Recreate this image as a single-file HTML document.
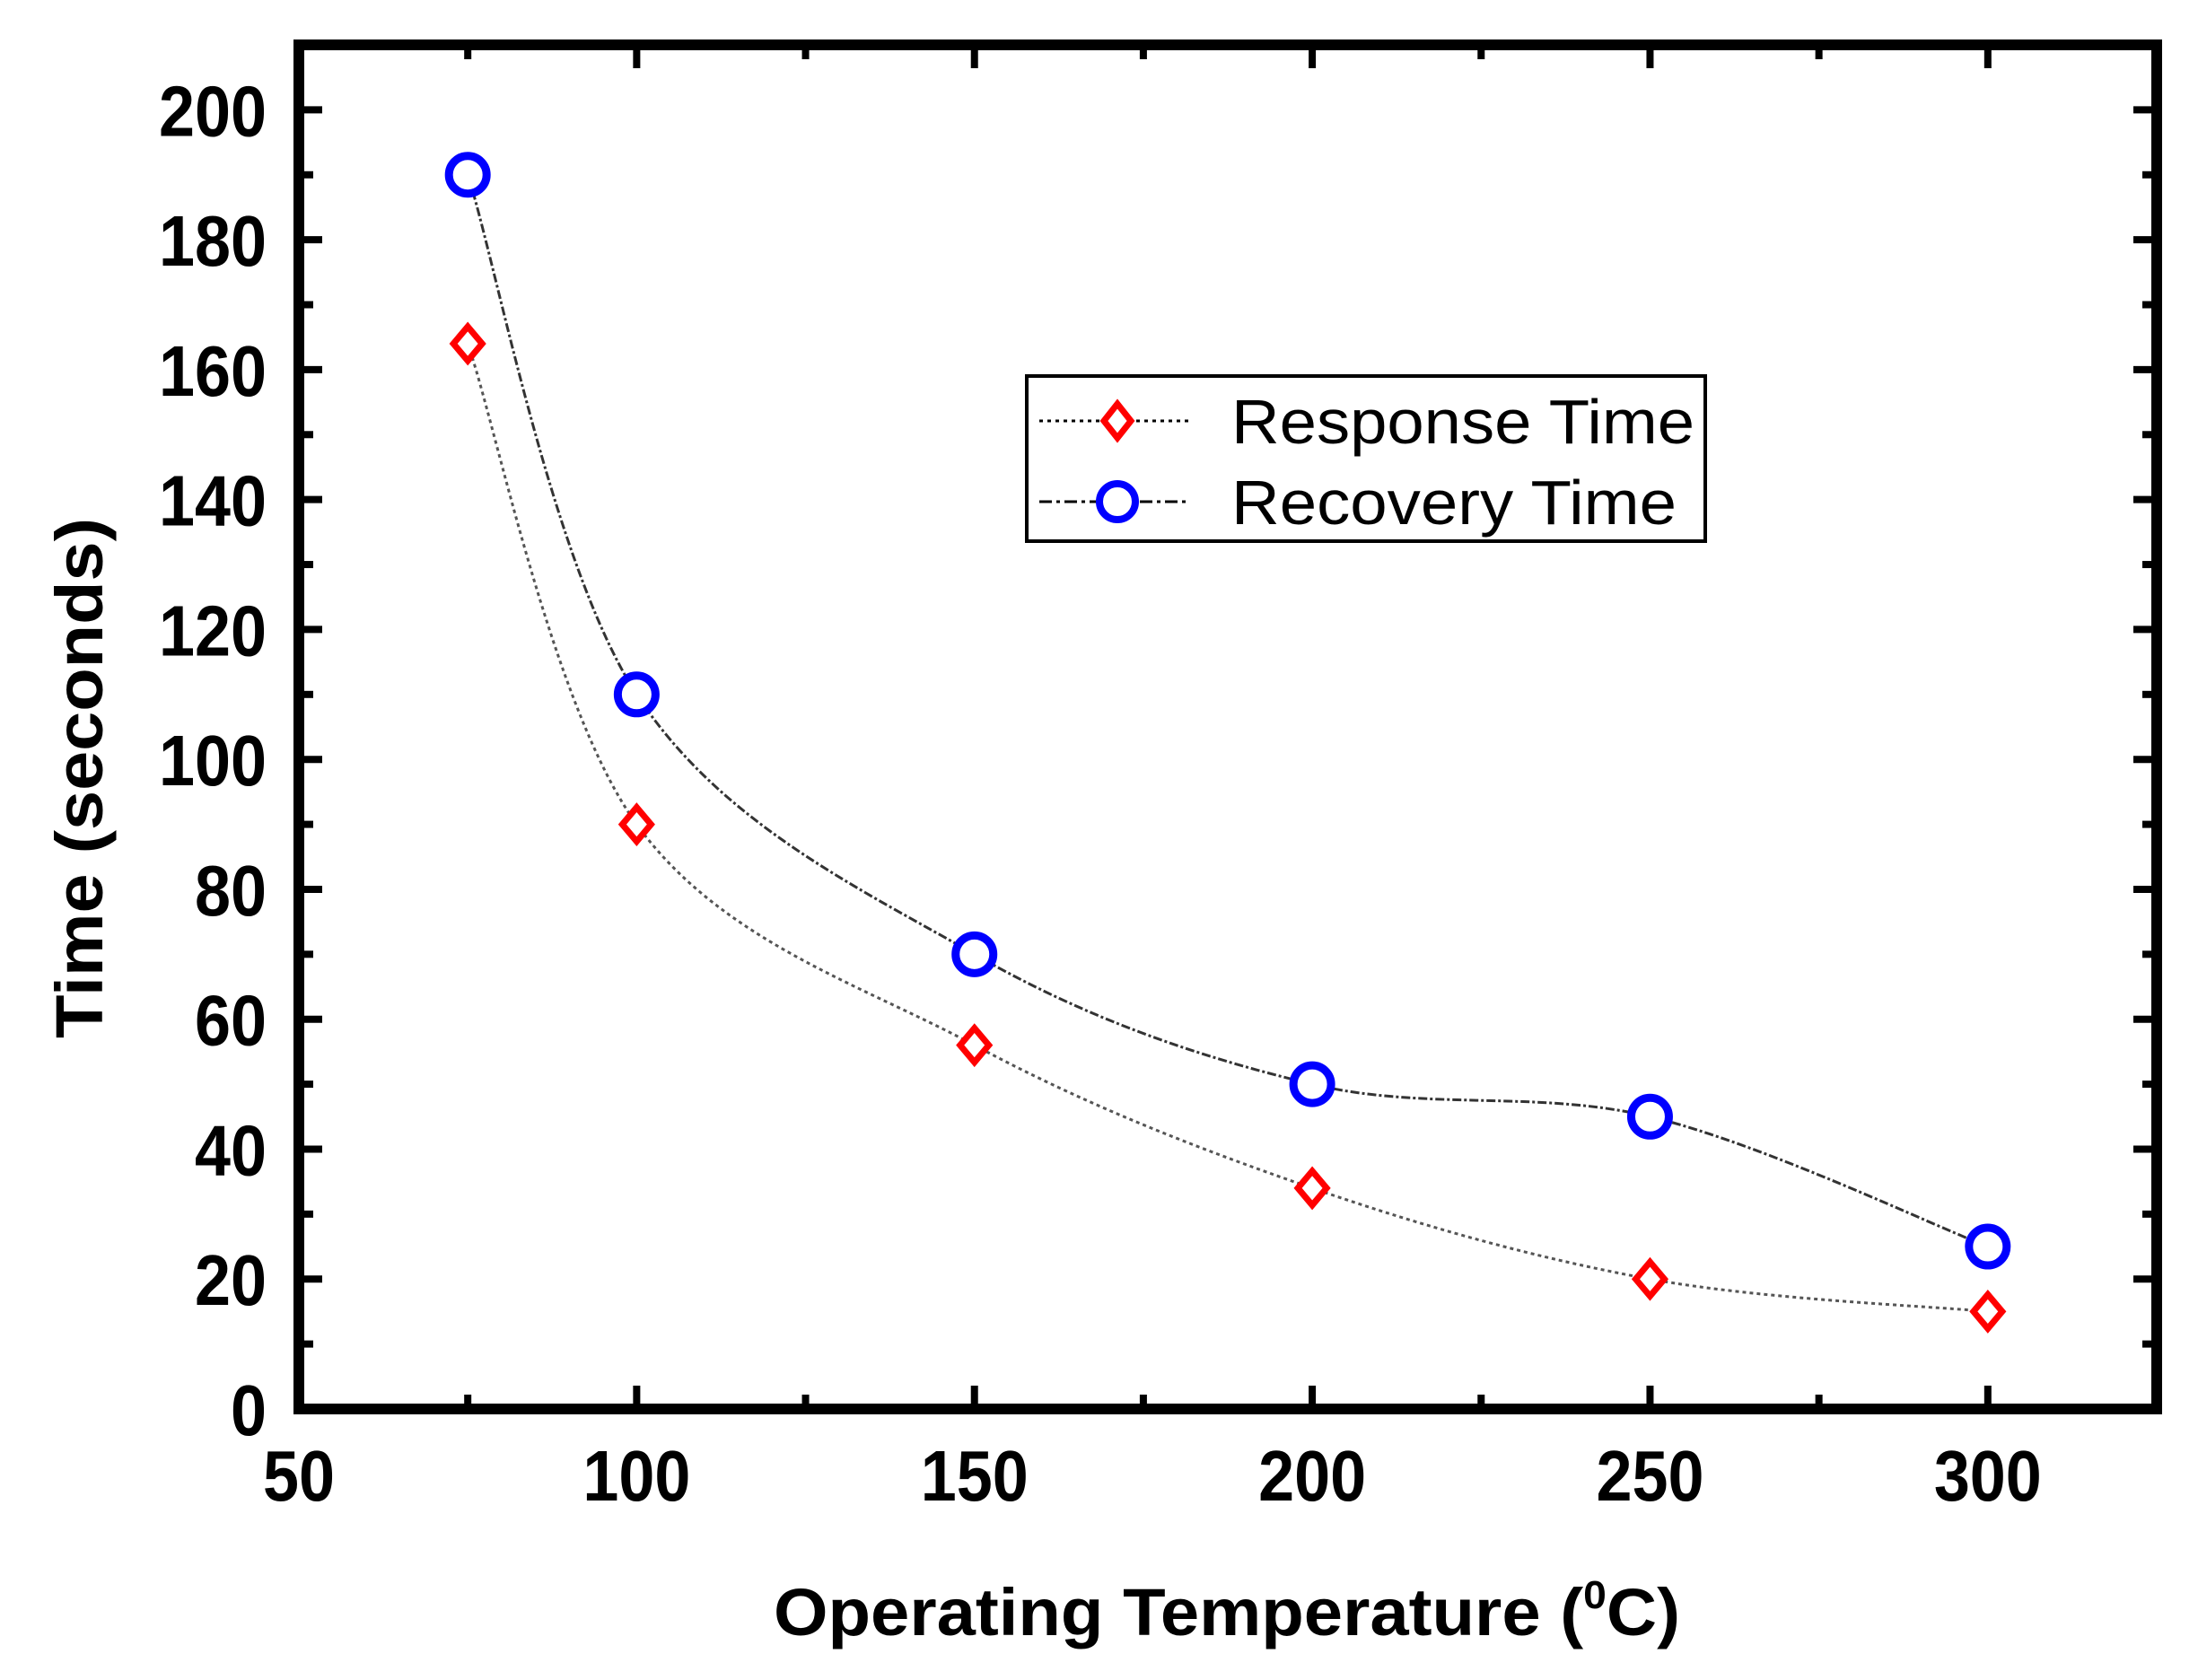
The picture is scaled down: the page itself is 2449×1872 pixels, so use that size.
<!DOCTYPE html>
<html><head><meta charset="utf-8"><style>
html,body{margin:0;padding:0;background:#fff;}
svg{display:block;}
text{font-family:"Liberation Sans",sans-serif;}
</style></head><body>
<svg id="chart" width="2449" height="1872" viewBox="0 0 2449 1872" xmlns="http://www.w3.org/2000/svg">
<g id="grid"></g>
<rect x="333" y="50" width="2070" height="1520" fill="none" stroke="#000" stroke-width="12"/>
<text x="1367" y="1822" text-anchor="middle" font-size="74" font-weight="bold" textLength="1010" lengthAdjust="spacingAndGlyphs">Operating Temperature (<tspan font-size="44" dy="-30">0</tspan><tspan dy="30">C)</tspan></text>
<text transform="translate(114,867) rotate(-90)" text-anchor="middle" font-size="74" font-weight="bold" textLength="580" lengthAdjust="spacingAndGlyphs">Time (seconds)</text>
<g>
<rect x="1144" y="419" width="756" height="184" fill="#fff" stroke="#000" stroke-width="4"/>
<line x1="1158" y1="469" x2="1326" y2="469" stroke="#000" stroke-width="3" stroke-dasharray="4,5"/>
<path d="M1245,450 L1260,469 L1245,488 L1230,469 Z" fill="#fff" stroke="#f00" stroke-width="7"/>
<text x="1372" y="494" font-size="70" textLength="516" lengthAdjust="spacingAndGlyphs">Response Time</text>
<line x1="1158" y1="559" x2="1326" y2="559" stroke="#000" stroke-width="3" stroke-dasharray="14,5,4,5"/>
<circle cx="1245" cy="559" r="20" fill="#fff" stroke="#00f" stroke-width="8"/>
<text x="1372" y="584" font-size="70" textLength="496" lengthAdjust="spacingAndGlyphs">Recovery Time</text>
</g>
</svg>
<script>
const temps = [75, 100, 150, 200, 250, 300];
const responseTime = [164, 90, 56, 34, 20, 15];
const recoveryTime = [190, 110, 70, 50, 45, 25];
const xTickLabels = [50, 100, 150, 200, 250, 300];
const yTickLabels = [0, 20, 40, 60, 80, 100, 120, 140, 160, 180, 200];

const NS = "http://www.w3.org/2000/svg";
const g = document.getElementById('grid');
const X0 = 333, X1 = 2403, Y0 = 1570, Y1 = 50;
const xmin = 50, xmax = 325, ymin = 0, ymax = 210;
const sx = v => X0 + (v - xmin) / (xmax - xmin) * (X1 - X0);
const sy = v => Y0 - (v - ymin) / (ymax - ymin) * (Y0 - Y1);
function mk(tag, attrs, parent) {
  const e = document.createElementNS(NS, tag);
  for (const k in attrs) e.setAttribute(k, attrs[k]);
  (parent || g).appendChild(e);
  return e;
}
for (let v = 50; v <= 325; v += 25) {
  const major = v % 50 === 0, L = major ? 26 : 16;
  let t = mk('line', {x1: sx(v), x2: sx(v), y1: Y0, y2: Y0 - L, stroke: '#000', 'stroke-width': 8});
  
  
  t = mk('line', {x1: sx(v), x2: sx(v), y1: Y1, y2: Y1 + L, stroke: '#000', 'stroke-width': 8});
  
  
}
xTickLabels.forEach(v => {
  const s = String(v);
  const t = mk('text', {x: sx(v), y: 1672, 'text-anchor': 'middle', 'font-size': 80, 'font-weight': 'bold', textLength: s.length * 40, lengthAdjust: 'spacingAndGlyphs'});
  t.textContent = s;
  
  
});
for (let v = 0; v <= 210; v += 10) {
  const major = v % 20 === 0, L = major ? 26 : 16;
  let t = mk('line', {x1: X0, x2: X0 + L, y1: sy(v), y2: sy(v), stroke: '#000', 'stroke-width': 8});
  
  
  t = mk('line', {x1: X1, x2: X1 - L, y1: sy(v), y2: sy(v), stroke: '#000', 'stroke-width': 8});
  
  
}
yTickLabels.forEach(v => {
  const s = String(v);
  const t = mk('text', {x: 297, y: sy(v) + 29, 'text-anchor': 'end', 'font-size': 80, 'font-weight': 'bold', textLength: s.length * 40, lengthAdjust: 'spacingAndGlyphs'});
  t.textContent = s;
  
  
});
function spline(xs, ys) {
  const p = xs.map((x, i) => [sx(x), sy(ys[i])]);
  let d = `M${p[0][0]},${p[0][1]}`;
  for (let i = 0; i < p.length - 1; i++) {
    const p0 = p[i - 1] || p[i], p1 = p[i], p2 = p[i + 1], p3 = p[i + 2] || p2;
    const c1 = [p1[0] + (p2[0] - p0[0]) / 6, p1[1] + (p2[1] - p0[1]) / 6];
    const c2 = [p2[0] - (p3[0] - p1[0]) / 6, p2[1] - (p3[1] - p1[1]) / 6];
    d += ` C${c1[0]},${c1[1]} ${c2[0]},${c2[1]} ${p2[0]},${p2[1]}`;
  }
  return d;
}
const lr = mk('path', {d: spline(temps, responseTime), fill: 'none', stroke: '#555', 'stroke-width': 3, 'stroke-dasharray': '4,4'});


const lc = mk('path', {d: spline(temps, recoveryTime), fill: 'none', stroke: '#333', 'stroke-width': 3, 'stroke-dasharray': '10,3,3,3'});


temps.forEach((t, i) => {
  const x = sx(t), y = sy(responseTime[i]);
  const m = mk('path', {d: `M${x},${y - 19} L${x + 16},${y} L${x},${y + 19} L${x - 16},${y} Z`, fill: '#fff', stroke: '#f00', 'stroke-width': 7});
  
  
});
temps.forEach((t, i) => {
  const c = mk('circle', {cx: sx(t), cy: sy(recoveryTime[i]), r: 21, fill: '#fff', stroke: '#00f', 'stroke-width': 9});
  
  
});
</script>
</body></html>
